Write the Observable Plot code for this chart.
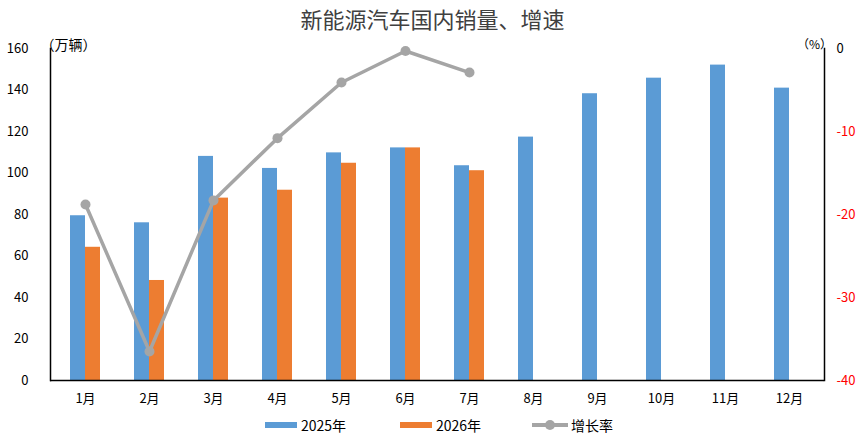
<!DOCTYPE html>
<html>
<head>
<meta charset="utf-8">
<script src="https://cdn.jsdelivr.net/npm/d3@7"></script>
<script src="https://cdn.jsdelivr.net/npm/@observablehq/plot@0.6"></script>
<style>
  body { margin: 0; background: #fff; font-family: "Noto Sans CJK SC", "Noto Sans", sans-serif; }
  #wrap { position: relative; width: 865px; height: 438px; overflow: hidden; }
  #title { position: absolute; top: 3px; left: 0; width: 865px; text-align: center; font-size: 22px; line-height: 30px; color: #404040; }
  #chart { position: absolute; top: 32px; left: 0; }
  .lg { position: absolute; top: 414px; height: 22px; display: flex; align-items: center; font-size: 14px; color: #000; }
  .sw { display: inline-block; width: 32px; height: 6px; margin-right: 4px; }
  .ln { position: relative; display: inline-block; width: 36px; height: 4px; background: #A5A5A5; margin-right: 3px; }
  .ln::after { content: ""; position: absolute; left: 13px; top: -3px; width: 10px; height: 10px; border-radius: 50%; background: #A5A5A5; }
</style>
</head>
<body>
<div id="wrap">
  <div id="title">新能源汽车国内销量、增速</div>
  <div id="chart"></div>
  <div class="lg" style="left:265px"><span class="sw" style="background:#5B9BD5"></span>2025年</div>
  <div class="lg" style="left:400px"><span class="sw" style="background:#ED7D31"></span>2026年</div>
  <div class="lg" style="left:532px"><span class="ln"></span>增长率</div>
</div>
<script>
const months = ["1月","2月","3月","4月","5月","6月","7月","8月","9月","10月","11月","12月"];
const sales2025 = [79.4, 76.0, 108.0, 102.2, 109.7, 112.1, 103.5, 117.3, 138.2, 145.7, 152.0, 140.9];
const sales2026 = [64.2, 48.2, 87.9, 91.7, 104.7, 112.1, 101.1];
const growthRate = [-18.8, -36.5, -18.3, -10.8, -4.1, -0.3, -2.9];
const leftTicks = [0, 20, 40, 60, 80, 100, 120, 140, 160];
const rightTicks = [0, -10, -20, -30, -40];

// map right-axis percentage (-40..0) onto left scale (0..160)
const toLeft = p => (p + 40) * 4;
const fromLeft = v => v / 4 - 40;

const d2025 = months.map((m, i) => ({month: m, value: sales2025[i]}));
const d2026 = sales2026.map((v, i) => ({month: months[i], value: v}));
const dRate = growthRate.map((v, i) => ({month: months[i], value: v}));

const font = '"Noto Sans CJK SC", "Noto Sans", sans-serif';

const chart = Plot.plot({
  width: 865,
  height: 380,
  marginTop: 16,
  marginBottom: 32,
  marginLeft: 50,
  marginRight: 41,
  x: {domain: months, paddingInner: 0.535, paddingOuter: 0.2675, label: null},
  y: {domain: [0, 160], label: null},
  style: {fontFamily: font, fontSize: "13px", color: "#000", background: "#fff"},
  marks: [
    Plot.barY(d2025, {x: "month", y: "value", fill: "#5B9BD5", insetRight: 15}),
    Plot.barY(d2026, {x: "month", y: "value", fill: "#ED7D31", insetLeft: 15}),
    Plot.line(dRate, {x: "month", y: d => toLeft(d.value), stroke: "#A5A5A5", strokeWidth: 3.5}),
    Plot.dot(dRate, {x: "month", y: d => toLeft(d.value), r: 5, fill: "#A5A5A5"}),
    Plot.axisX({tickSize: 0, tickPadding: 13, label: null, fontSize: 13}),
    Plot.axisY({anchor: "left", ticks: leftTicks, tickSize: 0, tickPadding: 22, label: null, fontSize: 13}),
    Plot.axisY({anchor: "right", ticks: rightTicks.filter(t => t === 0).map(toLeft), tickFormat: v => String(fromLeft(v)), tickSize: 0, tickPadding: 12, label: null, fontSize: 13, fill: "#000"}),
    Plot.axisY({anchor: "right", ticks: rightTicks.filter(t => t < 0).map(toLeft), tickFormat: v => "-" + String(Math.abs(fromLeft(v))), tickSize: 0, tickPadding: 12, label: null, fontSize: 13, fill: "#FF0000"}),
    Plot.ruleY([0], {stroke: "#000", strokeWidth: 1.5}),
    Plot.frame({anchor: "left", stroke: "#000", strokeWidth: 1.5}),
    Plot.frame({anchor: "right", stroke: "#000", strokeWidth: 1.5}),
    Plot.text(["（万辆）"], {text: d => d, frameAnchor: "top-left", textAnchor: "middle", dx: 18, dy: -8, fontSize: 14, fill: "#000"}),
    Plot.text(["（%）"], {text: d => d, frameAnchor: "top-right", textAnchor: "middle", dx: -10, dy: -8, fontSize: 12, fill: "#000"})
  ]
});
document.getElementById("chart").appendChild(chart);
</script>
</body>
</html>
